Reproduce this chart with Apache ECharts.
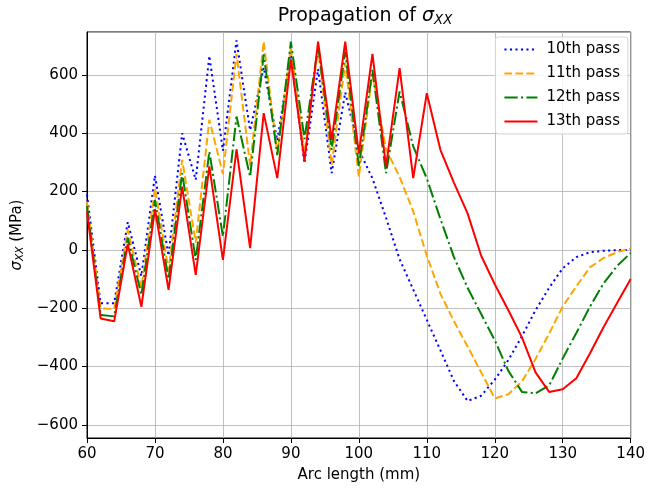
<!DOCTYPE html>
<html>
<head>
<meta charset="utf-8">
<script src="https://cdn.jsdelivr.net/npm/echarts@6/dist/echarts.min.js"></script>
<style>
  html, body { margin: 0; padding: 0; background: #fff; }
  #chart { width: 648px; height: 488px; }
</style>
</head>
<body>
<div id="chart"></div>
<script>
// arc length (mm), one sample every 2 mm
const arcLength = [60, 62, 64, 66, 68, 70, 72, 74, 76, 78, 80, 82, 84, 86, 88, 90, 92, 94, 96, 98,
  100, 102, 104, 106, 108, 110, 112, 114, 116, 118, 120, 122, 124, 126, 128, 130, 132, 134, 136, 138, 140];

// sigma_xx (MPa)
const pass10 = [190, -183, -183, 95, -90, 255, -20, 400, 240, 665, 340, 718, 410, 625, 375, 670, 297, 620, 263, 540,
  343, 245, 110, -32, -136, -240, -344, -450, -518, -500, -445, -378, -296, -207, -130, -63, -25, -8, -3, -1, 0];
const pass11 = [165, -200, -203, 68, -130, 211, -70, 309, 25, 446, 260, 672, 290, 714, 330, 695, 330, 690, 291, 640,
  251, 605, 345, 250, 132, -20, -150, -245, -331, -420, -509, -495, -451, -374, -287, -194, -125, -60, -28, -8, 5];
const pass12 = [150, -223, -228, 42, -155, 171, -100, 263, -34, 337, 46, 457, 251, 670, 325, 714, 380, 700, 343, 680,
  286, 617, 263, 543, 355, 245, 106, -25, -130, -220, -310, -415, -487, -492, -465, -372, -285, -195, -115, -55, -11];
const pass13 = [130, -235, -245, 20, -195, 140, -137, 217, -86, 286, -34, 345, 6, 469, 246, 653, 305, 714, 377, 714,
  330, 672, 286, 623, 246, 537, 343, 230, 125, -20, -118, -207, -300, -420, -487, -478, -440, -355, -265, -182, -100];

const seriesNames = ['10th pass', '11th pass', '12th pass', '13th pass'];
const seriesColors = ['#0000ff', '#ffa500', '#008000', '#ff0000'];
// matplotlib ':' '--' '-.' '-' scaled by a 2 px line
const seriesDash = [[2.1, 3.4], [7.7, 3.3], [13.3, 3.3, 2.1, 3.3], 'solid'];
const seriesData = [pass10, pass11, pass12, pass13];

const font = 'DejaVu Sans';
const fs = 15;

const chart = echarts.init(document.getElementById('chart'));

const pairs = (ys) => arcLength.map((x, i) => [x, ys[i]]);
const minus = (v) => String(v).replace('-', '\u2212');

const option = {
  animation: false,
  backgroundColor: '#fff',
  title: {
    text: 'Propagation of {s|σ}{sub|XX}',
    left: 360,
    textAlign: 'center',
    top: 0,
    textStyle: {
      fontFamily: font, fontSize: 19, fontWeight: 'normal', color: '#000',
      rich: {
        s: { fontFamily: font, fontSize: 19, fontStyle: 'italic', color: '#000' },
        sub: { fontFamily: font, fontSize: 13.3, fontStyle: 'italic', color: '#000', padding: [9, 0, 0, 0] }
      }
    }
  },
  legend: {
    orient: 'vertical',
    right: 20,
    top: 37,
    padding: [5, 8, 5, 8],
    itemWidth: 33,
    itemHeight: 14,
    itemGap: 9,
    backgroundColor: 'rgba(255,255,255,0.8)',
    borderColor: '#d6d6d6',
    borderWidth: 1,
    borderRadius: 3,
    itemStyle: { color: 'transparent', borderWidth: 0 },
    textStyle: { fontFamily: font, fontSize: fs, color: '#000', padding: [0, 0, 0, 4] },
    data: seriesNames
  },
  grid: {
    left: 87, right: 14, top: 32, bottom: 50,
    show: true, borderColor: '#000', borderWidth: 1
  },
  xAxis: {
    type: 'value',
    min: 60, max: 140, interval: 10,
    name: 'Arc length (mm)',
    nameLocation: 'middle',
    nameGap: 30,
    nameTextStyle: { fontFamily: font, fontSize: fs, color: '#000' },
    axisLine: { show: true, onZero: false, lineStyle: { color: '#000', width: 1 } },
    axisTick: { show: true, inside: false, length: 5, lineStyle: { color: '#000' } },
    axisLabel: { fontFamily: font, fontSize: fs, color: '#000', margin: 9 },
    splitLine: { show: true, lineStyle: { color: '#b0b0b0', width: 0.8 } }
  },
  yAxis: {
    type: 'value',
    min: -645, max: 747,
    minInterval: 200, maxInterval: 200,
    name: '{s|σ}{sub|XX} (MPa)',
    nameLocation: 'middle',
    nameGap: 56,
    nameRotate: 90,
    nameTextStyle: {
      fontFamily: font, fontSize: fs, color: '#000',
      rich: {
        s: { fontFamily: font, fontSize: fs, fontStyle: 'italic', color: '#000' },
        sub: { fontFamily: font, fontSize: 10.5, fontStyle: 'italic', color: '#000', padding: [7, 0, 0, 0] }
      }
    },
    axisLine: { show: true, onZero: false, lineStyle: { color: '#000', width: 1 } },
    axisTick: { show: true, inside: false, length: 5, lineStyle: { color: '#000' } },
    axisLabel: {
      fontFamily: font, fontSize: fs, color: '#000', margin: 9,
      showMinLabel: false, showMaxLabel: false,
      formatter: (v) => minus(v)
    },
    splitLine: { show: true, lineStyle: { color: '#b0b0b0', width: 0.8 } }
  },
  series: seriesData.map((ys, i) => ({
    name: seriesNames[i],
    type: 'line',
    data: pairs(ys),
    symbol: 'none',
    color: seriesColors[i],
    lineStyle: { color: seriesColors[i], width: 2, type: seriesDash[i] },
    z: 2 + i
  }))
};

chart.setOption(option);
</script>
</body>
</html>
